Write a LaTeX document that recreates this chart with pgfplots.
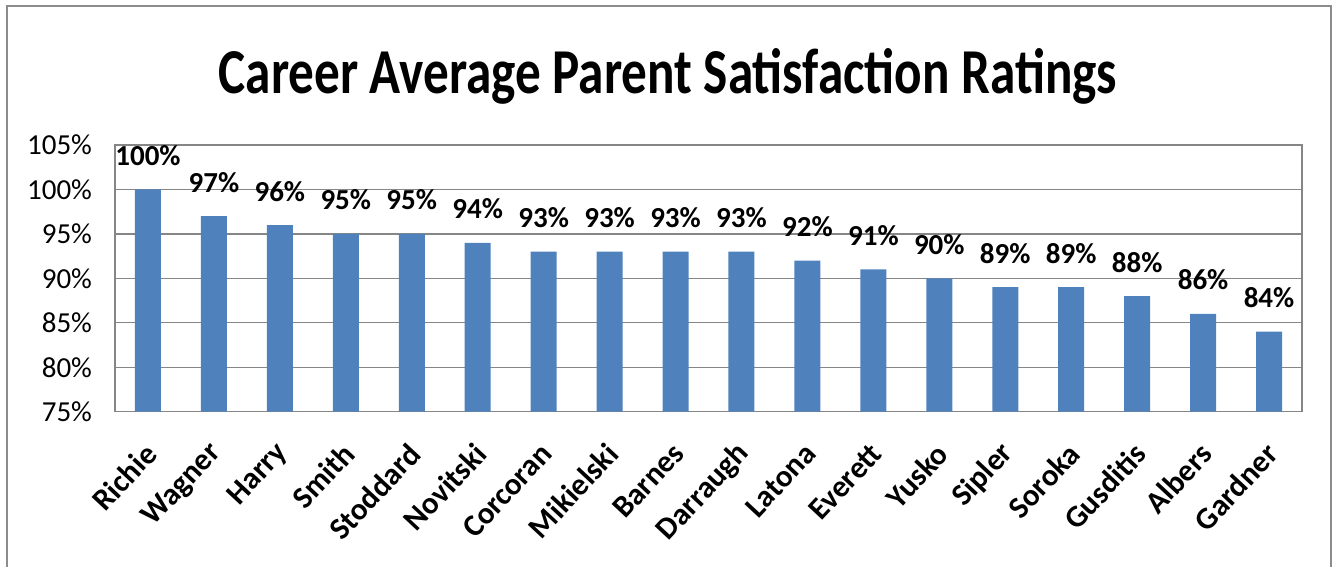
\documentclass[border=0pt]{standalone}
\usepackage{pgfplots}
\pgfplotsset{compat=1.18}
\usepackage{fontspec}
\setmainfont{Carlito}
\definecolor{barblue}{HTML}{4F81BD}
\definecolor{gridgray}{HTML}{868686}
\definecolor{framegray}{HTML}{8C8C8C}
\begin{document}
\begin{tikzpicture}
\useasboundingbox (0,0) rectangle (671.5pt,283.5pt);
% outer chart frame (bottom edge is cut off in the reference)
\draw[framegray, line width=1pt] (3.5pt,0) -- (3.5pt,280.5pt) -- (665.5pt,280.5pt) -- (665.5pt,0);
\node[anchor=base, xscale=0.8] at (334pt,236.5pt) {\bfseries\fontsize{32}{38}\selectfont Career Average Parent Satisfaction Ratings};
\begin{axis}[
    at={(57.5pt,77.65pt)}, anchor=south west,
    scale only axis,
    width=593.5pt, height=133.35pt,
    ybar, bar width=13pt,
    xmin=-0.5, xmax=17.5,
    ymin=75, ymax=105,
    xtick=data,
    xticklabels={Richie,Wagner,Harry,Smith,Stoddard,Novitski,Corcoran,Mikielski,Barnes,Darraugh,Latona,Everett,Yusko,Sipler,Soroka,Gusditis,Albers,Gardner},
    ytick={75,80,...,105},
    yticklabel={\pgfmathprintnumber{\tick}\%},
    /pgf/number format/assume math mode=true,
    major tick length=0pt,
    ymajorgrids,
    grid style={gridgray, line width=0.7pt},
    axis line style={gridgray, line width=0.7pt},
    yticklabel style={font=\fontsize{14.5}{17}\selectfont, xshift=-8pt},
    xticklabel style={font=\bfseries\fontsize{15.5}{18}\selectfont, rotate=47, anchor=east, yshift=-13.6pt, xshift=-9pt},
    nodes near coords={\pgfmathprintnumber{\pgfplotspointmeta}\%},
    every node near coord/.append style={font=\bfseries\fontsize{14.5}{17}\selectfont, anchor=base, yshift=12pt},
]
\addplot[fill=barblue, draw=none] coordinates {
    (0,100) (1,97) (2,96) (3,95) (4,95) (5,94) (6,93) (7,93) (8,93)
    (9,93) (10,92) (11,91) (12,90) (13,89) (14,89) (15,88) (16,86) (17,84)
};
\end{axis}
\end{tikzpicture}
\end{document}
